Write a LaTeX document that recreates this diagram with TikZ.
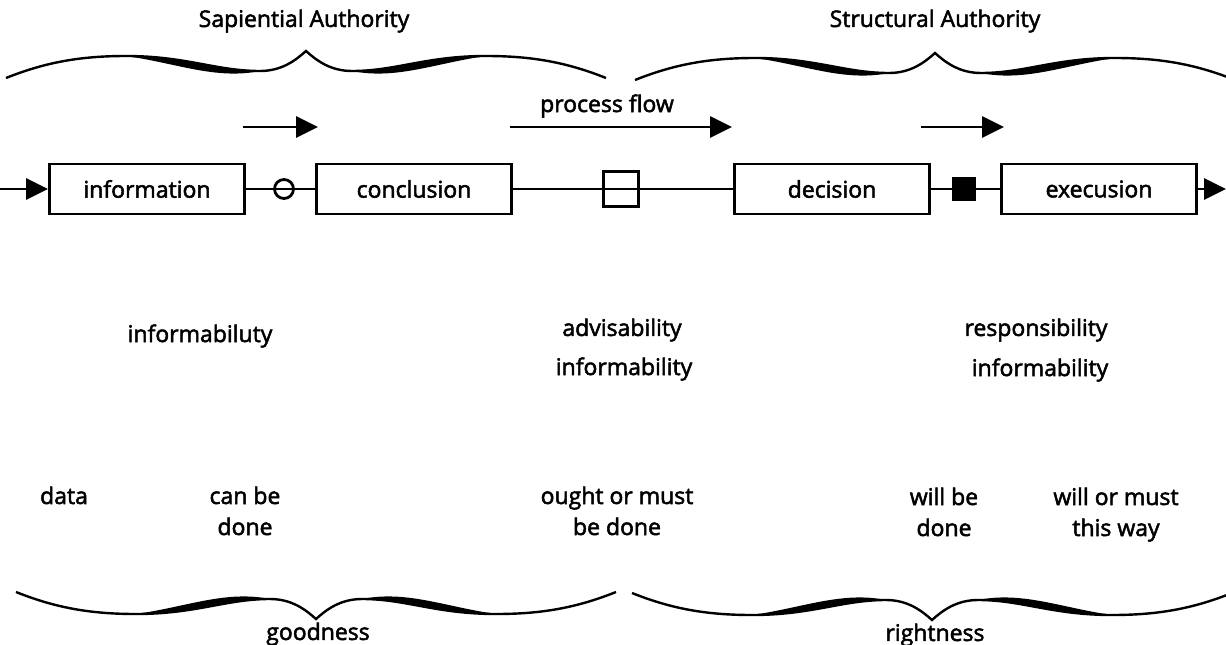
\documentclass[tikz,border=0pt]{standalone}
\usepackage{fontspec}
\setmainfont[FakeBold=2.2]{Open Sans}
\usetikzlibrary{arrows.meta}
\newcommand\bracehalves{%
  \draw[line width=2.4pt] (-300,24) .. controls (-260,8) and (-225,2) .. (-180,2)
     .. controls (-120,2) and (-90,17) .. (-46,17)
     .. controls (-24,17) and (-10,6) .. (0,-3)
     .. controls (10,6) and (24,17) .. (46,17)
     .. controls (90,17) and (120,2) .. (180,2)
     .. controls (225,2) and (260,8) .. (300,24);
  \fill (-180,2) .. controls (-120,2) and (-90,17) .. (-46,17)
     .. controls (-90,26) and (-130,9) .. (-180,2) -- cycle;
  \fill (180,2) .. controls (120,2) and (90,17) .. (46,17)
     .. controls (90,26) and (130,9) .. (180,2) -- cycle;
}
\begin{document}
\begin{tikzpicture}[x=1pt,y=-1pt, line width=2.8pt,
  lbl/.style={font=\fontsize{23}{31}\selectfont, inner sep=0pt, align=center},
  boxnode/.style={draw, line width=2.8pt, minimum width=195pt, minimum height=50pt, inner sep=0pt, font=\fontsize{23}{26}\selectfont},
  flow/.style={-{Triangle[length=22pt,width=21pt]}},
  knot/.style={draw, line width=2.8pt, inner sep=0pt},
]
\useasboundingbox (0,0) rectangle (1226,645);
\clip (0,0) rectangle (1226,645);

% braces
\begin{scope}[shift={(306,54)}]\bracehalves\end{scope}
\begin{scope}[shift={(935,56)}]\bracehalves\end{scope}
\begin{scope}[shift={(316,616)},yscale=-1]\bracehalves\end{scope}
\begin{scope}[shift={(932,617)},yscale=-1]\bracehalves\end{scope}

% brace labels
\node[lbl] (sap) at (304,21) {Sapiential Authority};
\node[lbl] (str) at (935,21) {Structural Authority};
\node[lbl] (good) at (318,634) {goodness};
\node[lbl] (right) at (935,635) {rightness};

% process flow arrows
\coordinate (a1s) at (243,127); \coordinate (a1e) at (318,127);
\coordinate (a2s) at (510,127); \coordinate (a2e) at (732,127);
\coordinate (a3s) at (921,127); \coordinate (a3e) at (1004,127);
\draw[flow] (a1s) -- (a1e);
\draw[flow] (a2s) -- (a2e);
\draw[flow] (a3s) -- (a3e);
\node[lbl] (pf) at (607,106) {process flow};

% main chain
\node[boxnode] (info) at (147,189) {information};
\node[boxnode] (conc) at (414,189) {conclusion};
\node[boxnode] (dec) at (832,189) {decision};
\node[boxnode] (exe) at (1099,189) {execusion};
\coordinate (in) at (0,189);
\coordinate (out) at (1226,189);
\draw[flow] (in) -- (info.west);
\draw[flow] (exe.east) -- (out);
\draw (info.east) -- (conc.west);
\draw (conc.east) -- (dec.west);
\draw (dec.east) -- (exe.west);
\node[knot, circle, minimum size=19pt] (c1) at (284,189) {};
\node[knot, minimum width=35pt, minimum height=35pt] (sq) at (621,189) {};
\node[knot, fill, minimum size=21pt] (fsq) at (964,189) {};

% middle texts
\node[lbl] (t1) at (200,336) {informabiluty};
\node[lbl] (t2) at (622,330) {advisability};
\node[lbl] (t3) at (624,369) {informability};
\node[lbl] (t4) at (1036,330) {responsibility};
\node[lbl] (t5) at (1040,370) {informability};

% lower texts
\node[lbl, anchor=base] (d1) at (64,504) {data};
\node[lbl, anchor=base] (d2) at (245,535) {can be\\done};
\node[lbl, anchor=base] (d3) at (617,535) {ought or must\\be done};
\node[lbl, anchor=base] (d4) at (944,536) {will be\\done};
\node[lbl, anchor=base] (d5) at (1116,536) {will or must\\this way};
\end{tikzpicture}
\end{document}
